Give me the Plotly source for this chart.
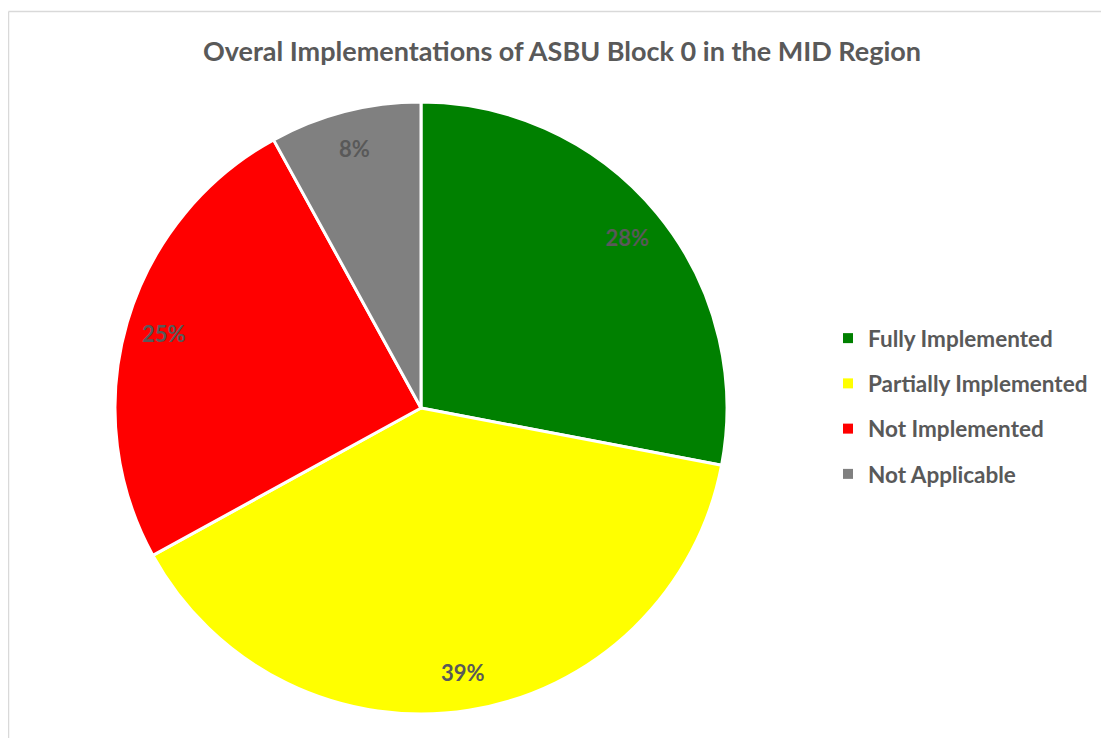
import plotly.graph_objects as go

# data
labels = ["Fully Implemented", "Partially Implemented", "Not Implemented", "Not Applicable"]
values = [28, 39, 25, 8]
colors = ["#008000", "#FFFF00", "#FF0000", "#808080"]

W, H = 1109, 738
OFF = 8  # page body margin
FONT = "Lato"
GREY = "#595959"

def px(x):
    return (x - OFF) / W

def py(y):
    return 1 - (y - OFF) / H

dom = dict(x=[px(115), px(727)], y=[py(714), py(102)])

fig = go.Figure()

# the pie itself
fig.add_trace(go.Pie(
    labels=labels,
    values=values,
    sort=False,
    direction="clockwise",
    rotation=0,
    marker=dict(colors=colors, line=dict(color="white", width=3)),
    textinfo="none",
    domain=dom,
    showlegend=False,
    hoverinfo="label+percent",
))

# transparent ring on top, only to place the percentages near the rim
fig.add_trace(go.Pie(
    labels=labels,
    values=values,
    sort=False,
    direction="clockwise",
    rotation=0,
    hole=0.75,
    marker=dict(colors=["rgba(0,0,0,0)"] * len(values), line=dict(width=0)),
    texttemplate="%{percent:.0%}",
    textposition="inside",
    insidetextorientation="horizontal",
    textfont=dict(family=FONT, size=22, color=GREY, weight="bold"),
    domain=dom,
    showlegend=False,
    hoverinfo="skip",
))

# legend entries
for lab, col in zip(labels, colors):
    fig.add_trace(go.Scatter(
        x=[None], y=[None], mode="markers", name=lab, legendgroup=lab,
        marker=dict(symbol="square", size=10, color=col),
    ))

fig.update_layout(
    width=W, height=H,
    margin=dict(l=0, r=0, t=0, b=0),
    paper_bgcolor="white",
    plot_bgcolor="white",
    xaxis=dict(visible=False),
    yaxis=dict(visible=False),
    title=dict(text="Overal Implementations of ASBU Block 0 in the MID Region",
               x=px(562), xanchor="center", y=py(52), yanchor="middle",
               font=dict(family=FONT, size=27, color=GREY, weight="bold")),
    legend=dict(x=px(868) - 40 / W, xanchor="left", y=py(406), yanchor="middle",
                font=dict(family=FONT, size=22.5, color=GREY, weight="bold"),
                tracegroupgap=13, itemwidth=30),
    shapes=[
        dict(type="line", xref="paper", yref="paper", x0=px(8.5), x1=px(8.5), y0=0, y1=py(11.5),
             line=dict(color="#d9d9d9", width=1.5)),
        dict(type="line", xref="paper", yref="paper", x0=px(8.5), x1=1, y0=py(11.5), y1=py(11.5),
             line=dict(color="#d9d9d9", width=1.5)),
    ],
)

fig.write_html("out.html")
